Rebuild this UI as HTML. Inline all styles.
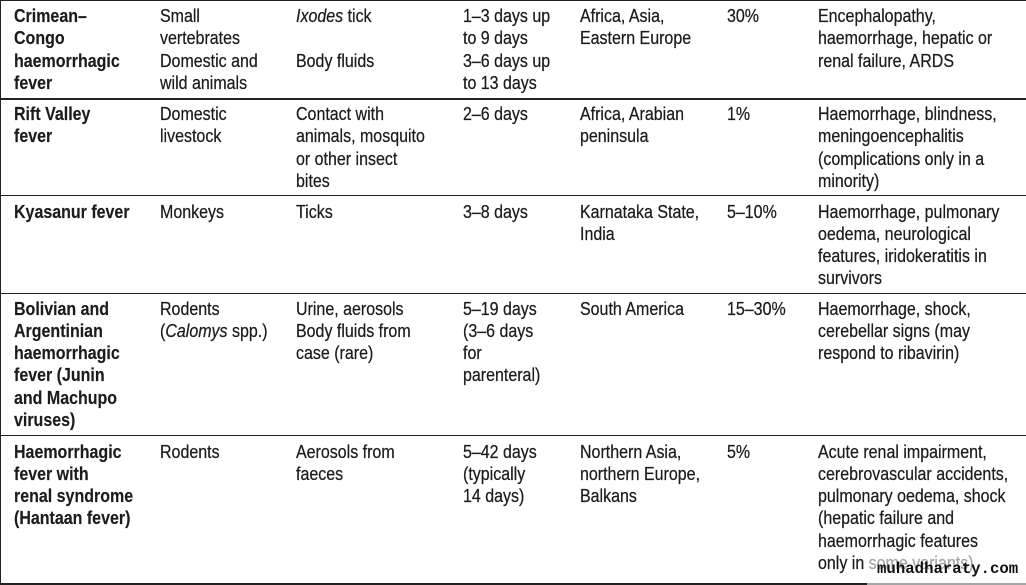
<!DOCTYPE html>
<html>
<head>
<meta charset="utf-8">
<style>
  html, body { margin:0; padding:0; background:#fff; }
  #wrap { position:relative; width:1026px; height:585px; overflow:hidden; background:#fff; }
  .hl { position:absolute; left:0; width:1026px; height:1.5px; background:#222; }
  .vl { position:absolute; left:0; top:0; width:1.2px; height:585px; background:#222; }
  .c { position:absolute; font-family:"Liberation Sans", Arial, sans-serif; font-size:18.6px; line-height:22.3px;
       color:#1e1b1c; white-space:nowrap; transform:scaleX(0.86); transform-origin:0 0;
       -webkit-text-stroke:0.25px #1e1b1c; }
  .b { font-weight:bold; -webkit-text-stroke:0.15px #1e1b1c; }
  .wm-box { position:absolute; left:867px; top:554px; width:159px; height:31px; background:rgba(255,255,255,0.6); }
  .wm { position:absolute; left:877px; top:560px; font-family:"Liberation Mono", monospace; font-weight:bold;
        font-size:15.7px; line-height:18px; color:#111; white-space:nowrap; }
</style>
</head>
<body>
<div id="wrap">
  <div class="hl" style="top:0;height:1.2px"></div>
  <div class="hl" style="top:98px"></div>
  <div class="hl" style="top:194.8px"></div>
  <div class="hl" style="top:292.5px"></div>
  <div class="hl" style="top:434.8px"></div>
  <div class="hl" style="top:583px;height:2px"></div>
  <div class="vl"></div>

  <!-- Row 1 -->
  <div class="c b" style="left:14px;top:5px">Crimean–<br>Congo<br>haemorrhagic<br>fever</div>
  <div class="c" style="left:160px;top:5px">Small<br>vertebrates<br>Domestic and<br>wild animals</div>
  <div class="c" style="left:296px;top:5px"><i>Ixodes</i> tick<br>&nbsp;<br>Body fluids</div>
  <div class="c" style="left:463px;top:5px">1–3 days up<br>to 9 days<br>3–6 days up<br>to 13 days</div>
  <div class="c" style="left:580px;top:5px">Africa, Asia,<br>Eastern Europe</div>
  <div class="c" style="left:727px;top:5px">30%</div>
  <div class="c" style="left:818px;top:5px">Encephalopathy,<br>haemorrhage, hepatic or<br>renal failure, ARDS</div>

  <!-- Row 2 -->
  <div class="c b" style="left:14px;top:103px">Rift Valley<br>fever</div>
  <div class="c" style="left:160px;top:103px">Domestic<br>livestock</div>
  <div class="c" style="left:296px;top:103px">Contact with<br>animals, mosquito<br>or other insect<br>bites</div>
  <div class="c" style="left:463px;top:103px">2–6 days</div>
  <div class="c" style="left:580px;top:103px">Africa, Arabian<br>peninsula</div>
  <div class="c" style="left:727px;top:103px">1%</div>
  <div class="c" style="left:818px;top:103px">Haemorrhage, blindness,<br>meningoencephalitis<br>(complications only in a<br>minority)</div>

  <!-- Row 3 -->
  <div class="c b" style="left:14px;top:200.5px">Kyasanur fever</div>
  <div class="c" style="left:160px;top:200.5px">Monkeys</div>
  <div class="c" style="left:296px;top:200.5px">Ticks</div>
  <div class="c" style="left:463px;top:200.5px">3–8 days</div>
  <div class="c" style="left:580px;top:200.5px">Karnataka State,<br>India</div>
  <div class="c" style="left:727px;top:200.5px">5–10%</div>
  <div class="c" style="left:818px;top:200.5px">Haemorrhage, pulmonary<br>oedema, neurological<br>features, iridokeratitis in<br>survivors</div>

  <!-- Row 4 -->
  <div class="c b" style="left:14px;top:297.5px">Bolivian and<br>Argentinian<br>haemorrhagic<br>fever (Junin<br>and Machupo<br>viruses)</div>
  <div class="c" style="left:160px;top:297.5px">Rodents<br>(<i>Calomys</i> spp.)</div>
  <div class="c" style="left:296px;top:297.5px">Urine, aerosols<br>Body fluids from<br>case (rare)</div>
  <div class="c" style="left:463px;top:297.5px">5–19 days<br>(3–6 days<br>for<br>parenteral)</div>
  <div class="c" style="left:580px;top:297.5px">South America</div>
  <div class="c" style="left:727px;top:297.5px">15–30%</div>
  <div class="c" style="left:818px;top:297.5px">Haemorrhage, shock,<br>cerebellar signs (may<br>respond to ribavirin)</div>

  <!-- Row 5 -->
  <div class="c b" style="left:14px;top:440.5px">Haemorrhagic<br>fever with<br>renal syndrome<br>(Hantaan fever)</div>
  <div class="c" style="left:160px;top:440.5px">Rodents</div>
  <div class="c" style="left:296px;top:440.5px">Aerosols from<br>faeces</div>
  <div class="c" style="left:463px;top:440.5px">5–42 days<br>(typically<br>14 days)</div>
  <div class="c" style="left:580px;top:440.5px">Northern Asia,<br>northern Europe,<br>Balkans</div>
  <div class="c" style="left:727px;top:440.5px">5%</div>
  <div class="c" style="left:818px;top:440.5px">Acute renal impairment,<br>cerebrovascular accidents,<br>pulmonary oedema, shock<br>(hepatic failure and<br>haemorrhagic features<br>only in some variants)</div>

  <!-- Watermark -->
  <div class="wm-box"></div>
  <div class="wm">muhadharaty.com</div>
</div>
</body>
</html>
